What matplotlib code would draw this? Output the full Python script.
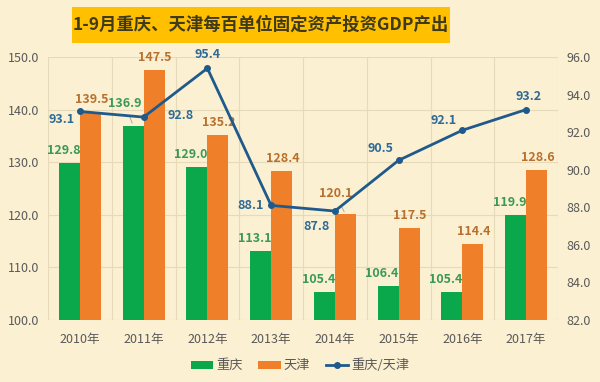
import matplotlib.pyplot as plt
import numpy as np

plt.rcParams['font.family'] = ['Noto Sans CJK SC', 'DejaVu Sans']

years = ['2010年', '2011年', '2012年', '2013年', '2014年', '2015年', '2016年', '2017年']
chongqing = [129.8, 136.9, 129.0, 113.1, 105.4, 106.4, 105.4, 119.9]
tianjin = [139.5, 147.5, 135.2, 128.4, 120.1, 117.5, 114.4, 128.6]
ratio = [93.1, 92.8, 95.4, 88.1, 87.8, 90.5, 92.1, 93.2]

# label offsets in pixels (dx, dy) relative to the point
ratio_offsets = [(-18, -8), (37, 2), (0, 14), (-21, 0), (-18, -15), (-18, 12), (-19, 10), (2, 13)]
cq_offsets = {1: (-8, 16)}
tj_offsets = {4: (-10, 14)}

bg = '#FCF0D2'
green = '#0AA84B'
orange = '#F07F2A'
blue = '#1F5A8C'

fig = plt.figure(figsize=(6, 3.82), dpi=100, facecolor=bg)
ax = fig.add_axes([0.08, 0.1623, 0.85, 0.6885], facecolor=bg)

x = np.arange(len(years))
w = 0.33
ax.bar(x - w / 2, [v - 100 for v in chongqing], w, bottom=100, color=green, label='重庆', zorder=2)
ax.bar(x + w / 2, [v - 100 for v in tianjin], w, bottom=100, color=orange, label='天津', zorder=2)

ax.set_xlim(-0.5, len(years) - 0.5)
ax.set_ylim(100, 150)
ax.set_yticks(np.arange(100, 151, 10))
ax.set_yticklabels([f'{v:.1f}' for v in np.arange(100, 151, 10)])
ax.set_xticks(x)
ax.set_xticklabels(years)

ax.set_xticks(np.arange(-0.5, len(years), 1), minor=True)
ax.grid(True, which='minor', axis='x', color='#E6DAB8', lw=0.8, zorder=0)
ax.grid(True, which='major', axis='y', color='#E6DAB8', lw=0.8, zorder=0)
ax.tick_params(axis='y', which='both', length=0, labelsize=9, colors='#595959', pad=6)
ax.tick_params(axis='x', which='both', length=0, labelsize=9, colors='#595959', pad=9)
for s in ax.spines.values():
    s.set_visible(False)

for i in range(len(years)):
    dx, dy = cq_offsets.get(i, (-6, 6))
    arrow = dict(arrowstyle='-', color='#A0A0A0', lw=0.6) if i in cq_offsets else None
    ax.annotate(f'{chongqing[i]:.1f}', (x[i] - w / 2, chongqing[i]), xytext=(dx, dy),
                textcoords='offset pixels', ha='center', va='bottom', fontsize=9,
                fontweight='bold', color='#3A9A55', zorder=5, arrowprops=arrow)
    dx, dy = tj_offsets.get(i, (1, 6))
    arrow = dict(arrowstyle='-', color='#A0A0A0', lw=0.6) if i in tj_offsets else None
    ax.annotate(f'{tianjin[i]:.1f}', (x[i] + w / 2, tianjin[i]), xytext=(dx, dy),
                textcoords='offset pixels', ha='center', va='bottom', fontsize=9,
                fontweight='bold', color='#B8702E', zorder=5, arrowprops=arrow)

ax2 = ax.twinx()
ax2.plot(x, ratio, color=blue, lw=2, marker='o', ms=4, label='重庆/天津', zorder=4)
ax2.set_ylim(82, 96)
ax2.set_yticks(np.arange(82, 97, 2))
ax2.set_yticklabels([f'{v:.1f}' for v in np.arange(82, 97, 2)])
ax2.tick_params(axis='y', length=0, labelsize=9, colors='#595959', pad=6)
for s in ax2.spines.values():
    s.set_visible(False)

for i in range(len(years)):
    dx, dy = ratio_offsets[i]
    ax2.annotate(f'{ratio[i]:.1f}', (x[i], ratio[i]), xytext=(dx, dy), textcoords='offset pixels',
                 ha='center', va='center', fontsize=9, fontweight='bold', color='#2E6A96', zorder=6)

h1, l1 = ax.get_legend_handles_labels()
h2, l2 = ax2.get_legend_handles_labels()
fig.legend(h1 + h2, l1 + l2, loc='center', bbox_to_anchor=(0.5, 0.043), ncol=3, frameon=False,
           fontsize=9.5, labelcolor='#595959', handlelength=1.7, handleheight=0.6,
           handletextpad=0.2, columnspacing=1.2)

fig.patches.append(plt.Rectangle((72 / 600, 1 - 43 / 382), 378 / 600, 36 / 382,
                                 transform=fig.transFigure, fc='#FFC000', ec='none'))
fig.text(261 / 600, 1 - 25 / 382, '1-9月重庆、天津每百单位固定资产投资GDP产出', ha='center', va='center',
         fontsize=12.5, fontweight='bold', color='#3F3A1C')

fig.savefig('out.png', dpi=100, facecolor=bg)
